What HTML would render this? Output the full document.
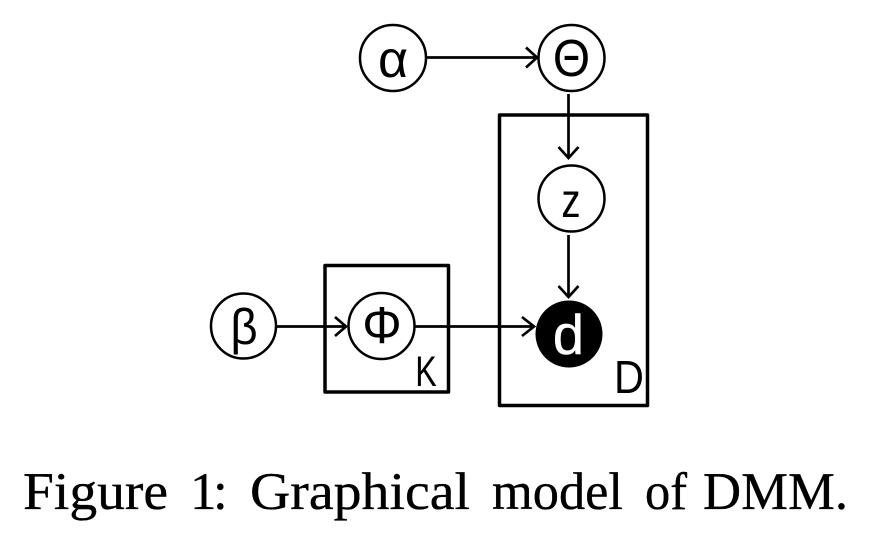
<!DOCTYPE html>
<html>
<head>
<meta charset="utf-8">
<style>
html,body{margin:0;padding:0;background:#fff;width:872px;height:536px;overflow:hidden}
svg{display:block}
.l{font-family:"Liberation Sans","DejaVu Sans",sans-serif;fill:#000;text-anchor:middle}
.c{font-family:"Liberation Serif",serif;font-size:53px;fill:#000;stroke:#000;stroke-width:.35}
</style>
</head>
<body>
<svg width="872" height="536" viewBox="0 0 872 536" xmlns="http://www.w3.org/2000/svg">
<g fill="none" stroke="#000" stroke-width="3.500" stroke-linejoin="round">
<rect x="499.500" y="115" width="148" height="290.500"/>
<rect x="325" y="265.500" width="123.500" height="126.500"/>
</g>
<g fill="none" stroke="#000" stroke-width="2.700">
<path d="M426 57.500H537M526 47.500L537 57.500L526 67.500"/>
<path d="M568.500 94V158M558.500 147L568.500 158L578.500 147"/>
<path d="M568.500 235V297M558.500 286L568.500 297L578.500 286"/>
<path d="M276 326.500H346M335 317L346 326.500L335 336"/>
<path d="M415 326.500H534M522 317L534 326.500L522 336"/>
</g>
<g fill="#fff" stroke="#000" stroke-width="2.500">
<circle cx="393" cy="58" r="33"/>
<circle cx="571.500" cy="58" r="33"/>
<circle cx="571.500" cy="198.500" r="33"/>
<circle cx="243.500" cy="326" r="32.500"/>
<circle cx="381.500" cy="326" r="33"/>
</g>
<circle cx="569" cy="334" r="33.500" fill="#000"/>
<text class="l" font-size="52" transform="translate(393 77)">α</text>
<text class="l" font-size="52" transform="translate(571.500 76) scale(.92 1)">Θ</text>
<text class="l" font-size="48" transform="translate(571 217) scale(.8 1)">z</text>
<text class="l" font-size="50" transform="translate(244 344) scale(.95 1)">β</text>
<text class="l" font-size="52" transform="translate(382 343) scale(.95 1)">Φ</text>
<text class="l" font-size="56" transform="translate(568.500 354)" style="fill:#fff;stroke:#fff;stroke-width:.5">d</text>
<text class="l" font-size="43" transform="translate(426 386) scale(.75 1)">K</text>
<text class="l" font-size="46" transform="translate(629 393) scale(.9 1)">D</text>
<text class="c" x="23" y="509" textLength="145" lengthAdjust="spacingAndGlyphs">Figure</text>
<text class="c" x="190" y="509">1</text>
<text class="c" x="213" y="509">:</text>
<text class="c" x="250" y="509" textLength="220" lengthAdjust="spacingAndGlyphs">Graphical</text>
<text class="c" x="492" y="509" textLength="131" lengthAdjust="spacingAndGlyphs">model</text>
<text class="c" x="645" y="509" textLength="42" lengthAdjust="spacingAndGlyphs">of</text>
<text class="c" x="703" y="509" textLength="145" lengthAdjust="spacingAndGlyphs">DMM.</text>
</svg>
</body>
</html>
